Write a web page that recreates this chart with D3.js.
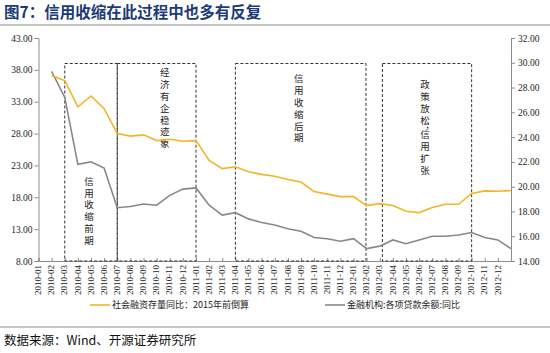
<!DOCTYPE html>
<html><head><meta charset="utf-8">
<script src="https://cdn.jsdelivr.net/npm/d3@7"></script>
<style>body{margin:0;background:#fff}svg{display:block}
.vt{writing-mode:vertical-rl;text-orientation:upright;}</style>
</head><body>
<svg id="c" width="550" height="353"></svg>
<script>
const months = ["2010-01","2010-02","2010-03","2010-04","2010-05","2010-06","2010-07","2010-08","2010-09","2010-10","2010-11","2010-12",
"2011-01","2011-02","2011-03","2011-04","2011-05","2011-06","2011-07","2011-08","2011-09","2011-10","2011-11","2011-12",
"2012-01","2012-02","2012-03","2012-04","2012-05","2012-06","2012-07","2012-08","2012-09","2012-10","2012-11","2012-12"];
// 社会融资存量同比 (left axis)
const tsfGrowth = [37.1,36.3,32.2,33.9,31.9,28.0,27.6,27.8,26.9,27.1,26.8,26.9,
23.8,22.5,22.8,22.0,21.6,21.3,20.8,20.4,18.9,18.5,18.1,18.1,
16.7,17.0,16.7,15.8,15.6,16.4,16.9,16.9,18.6,19.0,18.95,19.06];
// 金融机构:各项贷款余额:同比 (right axis)
const loanGrowth = [29.3,27.2,21.8,22.0,21.5,18.3,18.4,18.6,18.5,19.3,19.8,19.9,
18.5,17.7,17.9,17.4,17.1,16.9,16.6,16.4,15.9,15.8,15.6,15.8,
15.0,15.2,15.7,15.4,15.7,16.0,16.0,16.1,16.3,15.9,15.7,15.0];
const leftTicks = [8,13,18,23,28,33,38,43];
const rightTicks = [14,16,18,20,22,24,26,28,30,32];
const seriesNames = ["社会融资存量同比：2015年前倒算","金融机构:各项贷款余额:同比"];
// phase boxes: start / end month index and label
const phases = [
  {from:2, to:6, label:"信用收缩前期"},
  {from:6, to:12, label:"经济有企稳迹象"},
  {from:15, to:24.95, label:"信用收缩后期"},
  {from:26.2, to:33, label:"政策放松，信用扩张"}
];
const phaseTextTop = [176.5, 68, 74, 80]; // y of first char top
const phaseTextDx = [-2, 8, -2, -2];

const svg = d3.select("#c");
const L = 38.5, R = 511, T = 38, B = 261;
const x = d3.scaleLinear().domain([0, 36]).range([L, R]);
const yL = d3.scaleLinear().domain([8, 43]).range([B, T]);
const yR = d3.scaleLinear().domain([14, 32]).range([B, T]);
const serif = "'Liberation Serif','Times New Roman',serif";
const cjk = "'Noto Sans CJK SC','Liberation Serif',serif";

// title
svg.append("text").attr("x", 4).attr("y", 18).attr("font-family", cjk).attr("font-weight", "bold")
  .attr("font-size", 15.5).attr("fill", "#1b3a78").text("图7：信用收缩在此过程中也多有反复");
svg.append("line").attr("x1", 0).attr("x2", 550).attr("y1", 25).attr("y2", 25).attr("stroke", "#8c8c8c").attr("stroke-width", 1.2);

// left axis
const gL = svg.append("g").attr("transform", `translate(${L},0)`)
  .call(d3.axisLeft(yL).tickValues(leftTicks).tickFormat(d3.format(".2f")).tickSize(4));
// right axis
const gR = svg.append("g").attr("transform", `translate(${R},0)`)
  .call(d3.axisRight(yR).tickValues(rightTicks).tickFormat(d3.format(".2f")).tickSize(4));
// x axis
const gX = svg.append("g").attr("transform", `translate(0,${B})`)
  .call(d3.axisBottom(x).tickValues(d3.range(0, 37)).tickFormat(i => months[i] || "").tickSize(-3));
[gL, gR, gX].forEach(g => {
  g.select(".domain").attr("stroke", "#8c8c8c");
  g.selectAll(".tick line").attr("stroke", "#8c8c8c");
  g.selectAll("text").attr("font-family", serif).attr("font-size", 9.5).attr("fill", "#222");
});
gL.selectAll("text").attr("x", -6);
gR.selectAll("text").attr("x", 7);
gX.selectAll("text").attr("transform", "rotate(-90)").attr("text-anchor", "end")
  .attr("x", -4).attr("y", -1).attr("dy", "0.35em").attr("font-size", 9);

// phase boxes
phases.forEach((p, j) => {
  svg.append("rect").attr("x", x(p.from)).attr("y", yL(39)).attr("width", x(p.to) - x(p.from))
    .attr("height", yL(8) - yL(39)).attr("fill", "none").attr("stroke", "#333")
    .attr("stroke-width", 1).attr("stroke-dasharray", "3,2");
  const cx = (x(p.from) + x(p.to)) / 2 + phaseTextDx[j];
  const t = svg.append("text").attr("class", "vt").attr("x", cx).attr("y", phaseTextTop[j])
    .attr("font-family", cjk).attr("font-size", 9.5).attr("fill", "#222")
    .style("letter-spacing", "2.3px");
  const parts = p.label.split("，");
  parts.forEach((s, k) => {
    t.append("tspan").text(s);
    if (k < parts.length - 1) t.append("tspan").style("letter-spacing", "-7px").text("，");
  });
});

// lines
const lineL = d3.line().x((d, i) => x(i + 1)).y(d => yL(d));
const lineR = d3.line().x((d, i) => x(i + 1)).y(d => yR(d));
svg.append("path").datum(loanGrowth).attr("d", lineR).attr("fill", "none").attr("stroke", "#888").attr("stroke-width", 1.6);
svg.append("path").datum(tsfGrowth).attr("d", lineL).attr("fill", "none").attr("stroke", "#f8b325").attr("stroke-width", 1.6);

// legend
const leg = [{x1: 90, c: "#f8b325"}, {x1: 325, c: "#888"}];
leg.forEach((l, i) => {
  svg.append("line").attr("x1", l.x1).attr("x2", l.x1 + 20).attr("y1", 305).attr("y2", 305).attr("stroke", l.c).attr("stroke-width", 1.6);
  svg.append("text").attr("x", l.x1 + 22).attr("y", 305).attr("dy", "0.35em").attr("font-family", cjk)
    .attr("font-size", 9).attr("fill", "#222").text(seriesNames[i]);
});

// source
svg.append("line").attr("x1", 0).attr("x2", 550).attr("y1", 327).attr("y2", 327).attr("stroke", "#8c8c8c").attr("stroke-width", 1);
svg.append("text").attr("x", 4).attr("y", 345).attr("font-family", cjk).attr("font-size", 12.5).attr("fill", "#111")
  .text("数据来源：Wind、开源证券研究所");
</script>
</body></html>
